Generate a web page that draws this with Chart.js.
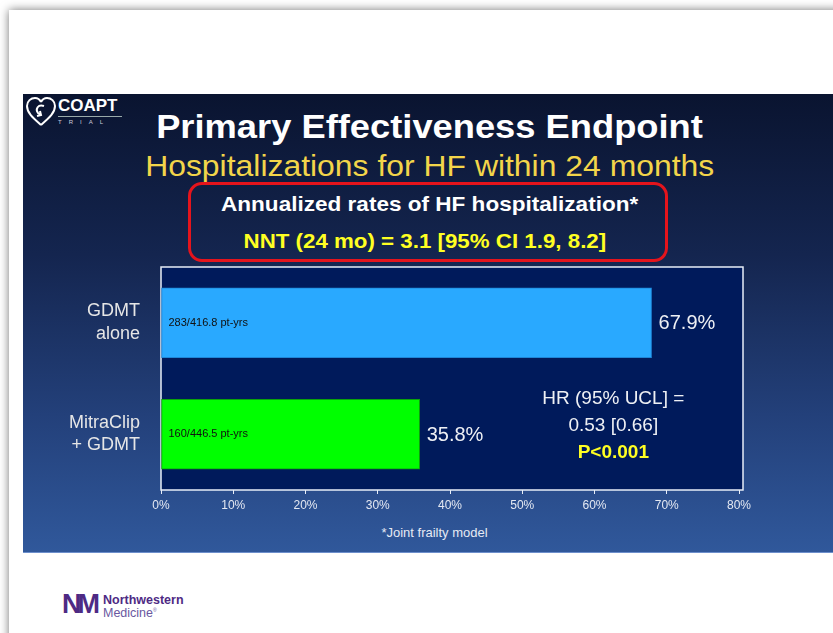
<!DOCTYPE html>
<html lang="en">
<head>
<meta charset="UTF-8">
<title>Primary Effectiveness Endpoint</title>
<script src="https://cdn.jsdelivr.net/npm/chart.js"></script>
<style>
    body { margin: 0; background: #fff; font-family: "Liberation Sans", Arial, sans-serif; }
    #page { position: relative; width: 833px; height: 633px; overflow: hidden; }
    #card { position: absolute; left: 9px; top: 10px; width: 900px; height: 700px; background: #fff;
            box-shadow: 0 0 9px rgba(0,0,0,0.55); }
    #slide { position: absolute; left: 23px; top: 94px; width: 820px; height: 458px;
             background: linear-gradient(to bottom, #0a1430 0%, #14254f 35%, #23407a 70%, #30589b 100%);
             border-bottom: 1px solid #6d8fcc; }
    .txt { position: absolute; left: 13px; width: 833px; text-align: center; white-space: nowrap; }
    .txt span { display: inline-block; transform: scaleX(1.1); }
    #title { top: 108px; font-size: 33px; font-weight: bold; color: #fff; }
    #sub { top: 150px; font-size: 29px; color: #f3d54a; }
    #box { position: absolute; left: 188px; top: 182px; width: 474px; height: 74px;
           border: 3px solid #e5141c; border-radius: 14px; }
    #l1 { top: 192px; font-size: 20.5px; font-weight: bold; color: #fff; }
    #l2 { top: 230px; font-size: 20.3px; font-weight: bold; color: #ffff22; left: 8px; }
    #foot { top: 525px; font-size: 13px; color: #e6eaf4; left: 18px; }
    #logo { position: absolute; left: 25px; top: 96px; }
    #coapt { position: absolute; left: 58px; top: 96px; font-size: 17px; font-weight: bold; color: #fff; }
    #trial { position: absolute; left: 58px; top: 116px; width: 64px; border-top: 1px solid #9aa;
             font-size: 6px; color: #ccd; letter-spacing: 7px; padding-top: 2px; }
    #nm { position: absolute; left: 62px; top: 589px; font-size: 27px; font-weight: bold; color: #4e2a84;
          letter-spacing: -4px; }
    #nw1 { position: absolute; left: 103px; top: 593px; font-size: 12.5px; font-weight: bold; color: #4e2a84; }
    #nw2 { position: absolute; left: 103px; top: 606px; font-size: 12.5px; color: #6a58a0; }
    #chartBox { position: absolute; left: 23px; top: 255px; }
    #chartBox canvas { display: block; }
</style>
</head>
<body>
<div id="page">
    <div id="card"></div>
    <div id="slide"></div>

    <svg id="logo" width="32" height="32" viewBox="0 0 32 32">
        <path d="M16 29 C8 22 2 17 2 10 C2 5 6 2 10 2 C13 2 15 4 16 6" fill="none" stroke="#fff" stroke-width="2"/>
        <path d="M16 29 C24 22 30 17 30 10 C30 5 26 2 22 2 C19 2 17 4 16 6" fill="none" stroke="#fff" stroke-width="2"/>
        <path d="M19 10 C13 8 10 13 13 17 L16 19 M12 20 L16 19 L15 15" fill="none" stroke="#fff" stroke-width="2"/>
    </svg>
    <div id="coapt">COAPT</div>
    <div id="trial">TRIAL</div>

    <div class="txt" id="title"><span>Primary Effectiveness Endpoint</span></div>
    <div class="txt" id="sub"><span>Hospitalizations for HF within 24 months</span></div>
    <div id="box"></div>
    <div class="txt" id="l1"><span>Annualized rates of HF hospitalization*</span></div>
    <div class="txt" id="l2"><span>NNT (24 mo) = 3.1 [95% CI 1.9, 8.2]</span></div>

    <div id="chartBox"><canvas id="myChart" width="810" height="270"></canvas></div>
    <div class="txt" id="foot">*Joint frailty model</div>

    <div id="nm">NM</div>
    <div id="nw1">Northwestern</div>
    <div id="nw2">Medicine<sup style="font-size:5px">®</sup></div>
</div>

<script>
    // 데이터
    const groups = [['GDMT', 'alone'], ['MitraClip', '+ GDMT']];
    const rates = [67.9, 35.8];                       // 연간 HF 입원율 (%)
    const events = ['283/416.8 pt-yrs', '160/446.5 pt-yrs'];
    const barColors = ['#29a9ff', '#00ff00'];
    const barBorders = ['#1f86d6', '#0aa30a'];
    const tickLabels = ['0%', '10%', '20%', '30%', '40%', '50%', '60%', '70%', '80%'];
    const hrLines = ['HR (95% UCL] =', '0.53 [0.66]', 'P<0.001'];

    // 플롯 배경 + 흰 테두리
    const plotBg = {
        id: 'plotBg',
        beforeDatasetsDraw(chart) {
            const a = chart.chartArea, c = chart.ctx;
            c.save();
            c.fillStyle = '#001a5b';
            c.fillRect(a.left, a.top, a.right - a.left + 4, a.bottom - a.top);
            c.strokeStyle = '#e8eef8';
            c.lineWidth = 1.5;
            c.strokeRect(a.left, a.top, a.right - a.left + 4, a.bottom - a.top);
            c.restore();
        }
    };

    // 막대 라벨, HR 텍스트
    const barText = {
        id: 'barText',
        afterDatasetsDraw(chart) {
            const c = chart.ctx;
            const meta = chart.getDatasetMeta(0);
            c.save();
            c.textBaseline = 'middle';
            meta.data.forEach((bar, i) => {
                c.font = '11px "Liberation Sans", Arial';
                c.fillStyle = '#111';
                c.textAlign = 'left';
                c.fillText(events[i], bar.base + 7, bar.y);
                c.font = '20px "Liberation Sans", Arial';
                c.fillStyle = '#eef0f4';
                c.fillText(rates[i] + '%', bar.x + 7, bar.y + 1);
            });
            const xs = chart.scales.x;
            const cx = xs.getPixelForValue(62.6);
            const y0 = meta.data[1].y - 35;
            c.textAlign = 'center';
            hrLines.forEach((t, i) => {
                if (i === 2) {
                    c.font = 'bold 19px "Liberation Sans", Arial';
                    c.fillStyle = '#ffff22';
                } else {
                    c.font = '19px "Liberation Sans", Arial';
                    c.fillStyle = '#eef0f4';
                }
                c.fillText(t, cx, y0 + i * 27);
            });
            c.restore();
        }
    };

    // 축 여백 없애기 (레이아웃 고정)
    function noPad(s) {
        s.paddingTop = 0; s.paddingBottom = 0;
        s.paddingLeft = 0; s.paddingRight = 0;
    }

    const ctx = document.querySelector('#myChart');
    const hfChart = new Chart(ctx, {
        type: 'bar',
        data: {
            labels: groups,
            datasets: [{
                data: rates,
                backgroundColor: barColors,
                borderColor: barBorders,
                borderWidth: 1,
                borderSkipped: false,
                barThickness: 70
            }]
        },
        plugins: [plotBg, barText],
        options: {
            indexAxis: 'y',
            responsive: false,
            animation: false,
            layout: { padding: { top: 12, right: 94, left: 0, bottom: 0 } },
            plugins: { legend: { display: false }, tooltip: { enabled: false } },
            scales: {
                x: {
                    min: 0, max: 80,
                    afterFit(s) { s.height = 35; noPad(s); },
                    border: { display: false },
                    grid: { drawOnChartArea: false, drawTicks: true, tickLength: 4, color: '#e8eef8' },
                    ticks: {
                        stepSize: 10,
                        padding: 4,
                        color: '#e4e8f2',
                        font: { size: 12, family: '"Liberation Sans", Arial' },
                        callback: (v, i) => tickLabels[i]
                    }
                },
                y: {
                    afterFit(s) { s.width = 138; noPad(s); },
                    border: { display: false },
                    grid: { display: false },
                    ticks: {
                        padding: 13,
                        color: '#e6e6e6',
                        font: { size: 18, family: '"Liberation Sans", Arial', lineHeight: 1.25 }
                    }
                }
            }
        }
    });
</script>
</body>
</html>
